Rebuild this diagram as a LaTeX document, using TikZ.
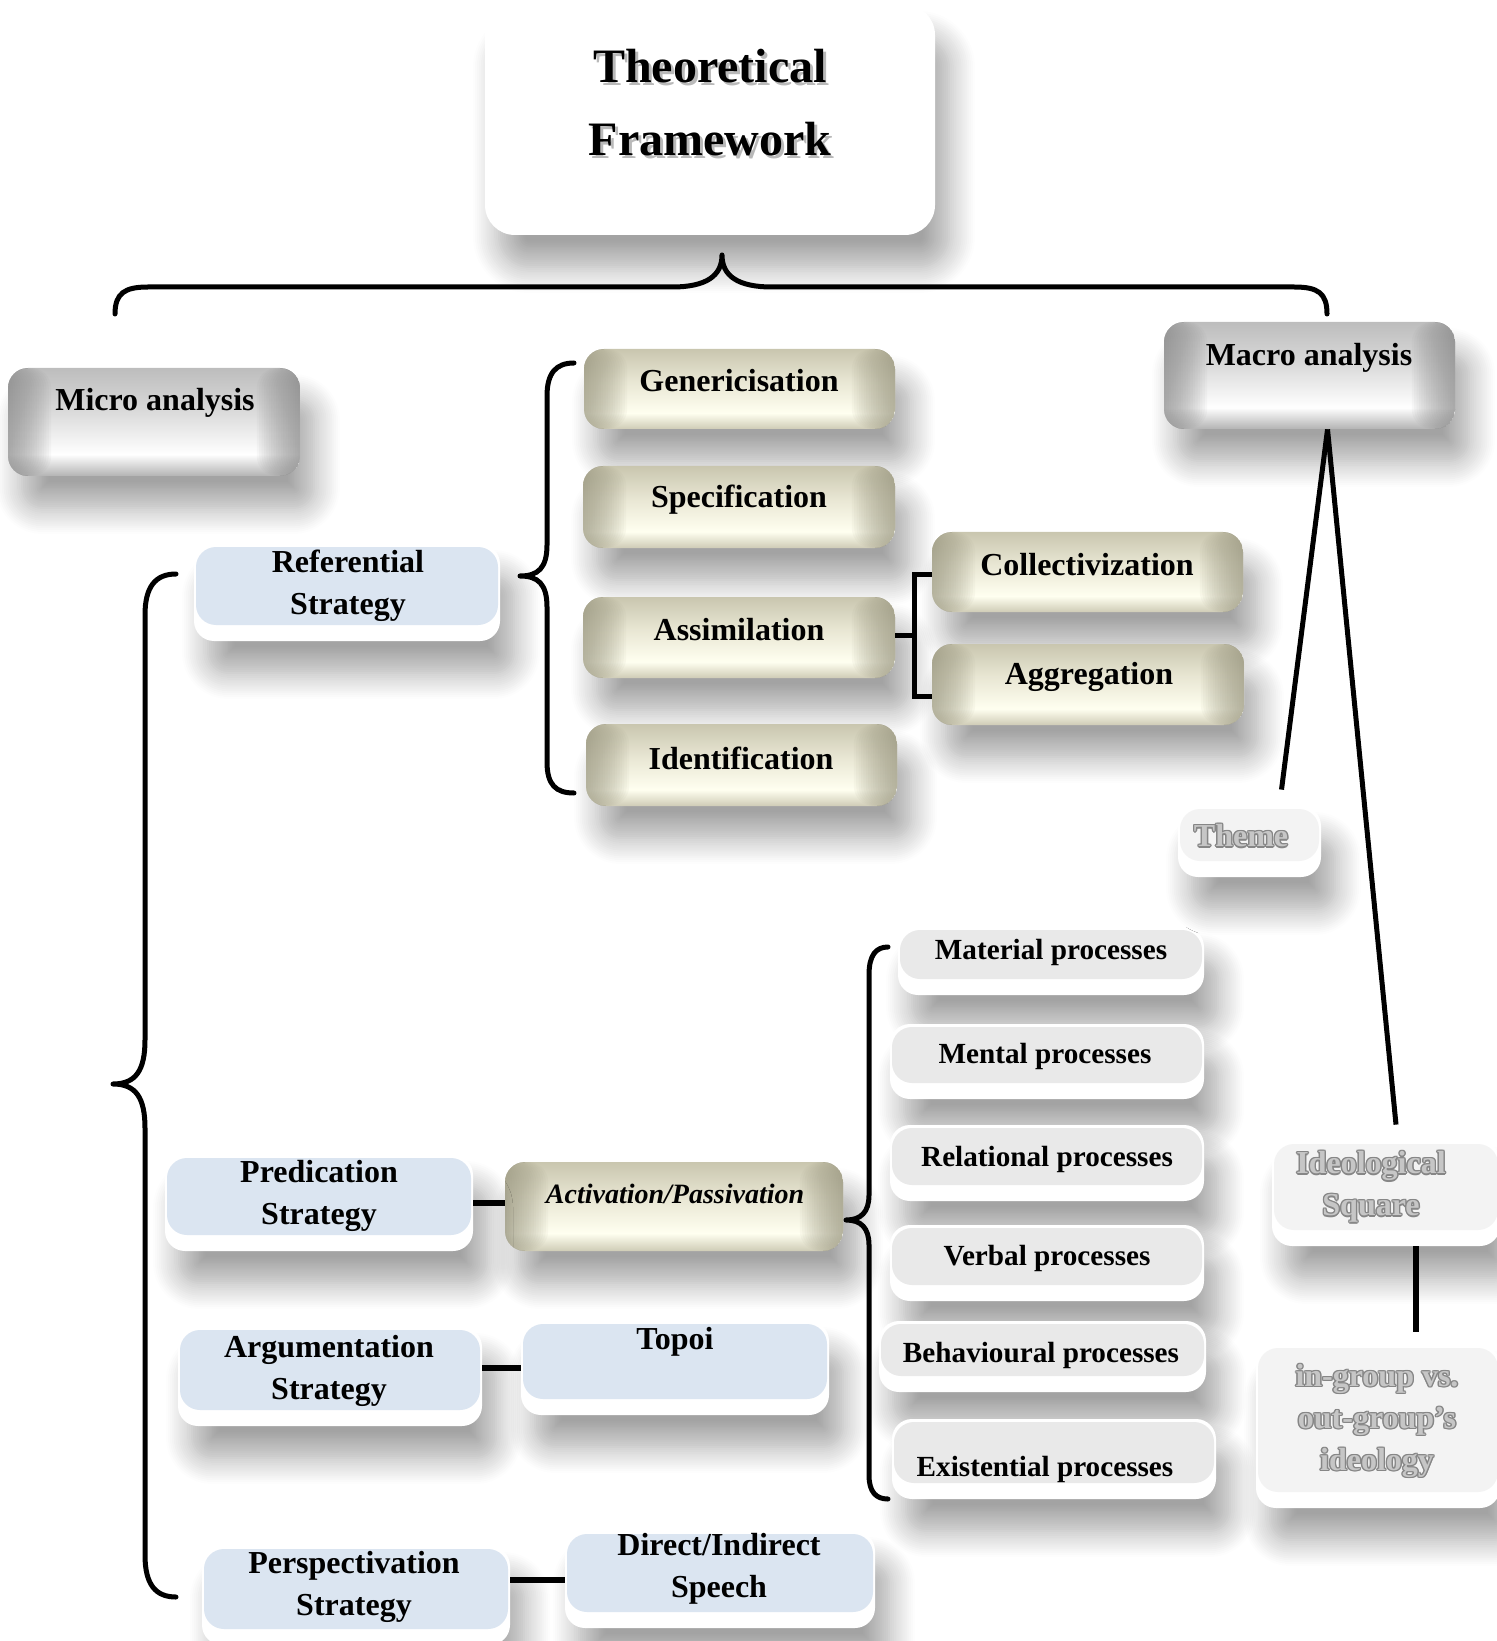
\documentclass[tikz,border=0pt]{standalone}
\usepackage{fontspec}
\setmainfont{Liberation Serif}
\usetikzlibrary{shadows.blur,calc}

\definecolor{tantop}{HTML}{C9C6AF}
\definecolor{tanup}{HTML}{E8E6D3}
\definecolor{tanmid}{HTML}{FFFFF0}
\definecolor{tanbot}{HTML}{CFCCB6}
\definecolor{tanedge}{HTML}{99967F}
\definecolor{grytop}{HTML}{BDBDBD}
\definecolor{gryup}{HTML}{DADADA}
\definecolor{grymid}{HTML}{FFFFFF}
\definecolor{grybot}{HTML}{B3B3B3}
\definecolor{gryedge}{HTML}{888888}
\definecolor{bluefill}{HTML}{DBE5F1}
\definecolor{procfill}{HTML}{E9E9E9}
\definecolor{ghostfill}{HTML}{F3F3F3}

\pgfdeclareverticalshading{pillowtan}{100bp}{color(0bp)=(tanbot); color(25bp)=(tanbot); color(35bp)=(tanmid); color(55bp)=(tanup); color(75bp)=(tantop); color(100bp)=(tantop)}
\pgfdeclareverticalshading{pillowgry}{100bp}{color(0bp)=(grybot); color(25bp)=(grybot); color(35bp)=(grymid); color(55bp)=(gryup); color(75bp)=(grytop); color(100bp)=(grytop)}

\newcommand\mkbox[6]{\node[#1, minimum width={(#4-#3)*0.5pt}, minimum height={(#6-#5)*0.5pt}] (#2) at ({(#3+#4)/2},{(#5+#6)/2}) {};}
\newcommand\ghosttext[4]{%
  \foreach \dx/\dy in {-0.7/0,0.7/0,0/0.7,0/-0.7,-0.5/0.5,0.5/0.5,-0.5/-0.5,0.5/-0.5}
    \node[t16, text=gray!95, xshift=\dx pt, yshift=\dy pt] at (#2,#3) {#4};
  \node[t16, text=gray!45] (#1) at (#2,#3) {#4};}

\tikzset{
  box/.style={rounded corners=10pt, inner sep=0pt, draw=none,
    blur shadow={shadow xshift=7pt, shadow yshift=-16pt, shadow blur radius=13pt, shadow blur steps=14, shadow opacity=36}},
  pillow/.style 2 args={box, shading=#1,
    path picture={
      \foreach \k in {1,...,18} {
        \fill[#2, opacity=0.06] (path picture bounding box.north west) rectangle ([xshift={\k*1.2pt}]path picture bounding box.south west);
        \fill[#2, opacity=0.06] ([xshift={-\k*1.2pt}]path picture bounding box.north east) rectangle (path picture bounding box.south east);
      }}},
  tanbox/.style={pillow={pillowtan}{tanedge}},
  greybox/.style={pillow={pillowgry}{gryedge}},
  rimbox/.style={box, fill=white,
    path picture={\fill[#1] ([shift={(1pt,-1.5pt)}]path picture bounding box.north west) rectangle ([shift={(-1pt,8pt)}]path picture bounding box.south east);}},
  bluebox/.style={rimbox=bluefill},
  procbox/.style={rimbox=procfill},
  ghostbox/.style={rimbox=ghostfill},
  titlebox/.style={box, fill=white, rounded corners=15pt},
  t16/.style={font=\bfseries\fontsize{16}{21}\selectfont, align=center, inner sep=0pt},
  t15/.style={font=\bfseries\fontsize{14.6}{20}\selectfont, align=center, inner sep=0pt},
  tit/.style={font=\bfseries\itshape\fontsize{14}{18}\selectfont, align=center, inner sep=0pt},
  ttl/.style={font=\bfseries\fontsize{24}{36.5}\selectfont, align=center, inner sep=0pt},
  conn/.style={line width=2.5pt, line cap=round, line join=round},
  hconn/.style={line width=3pt},
}

\begin{document}
\begin{tikzpicture}[x=0.5pt, y=-0.5pt]
\useasboundingbox (0,0) rectangle (1496,1641);

% ---------- boxes ----------
\mkbox{titlebox}{title}{485}{935}{5}{235}
\mkbox{greybox}{micro}{8}{300}{368}{476}
\mkbox{greybox}{macro}{1164}{1455}{322}{429}

\mkbox{tanbox}{gen}{584}{895}{349}{429}
\mkbox{tanbox}{spec}{583}{895}{466}{548}
\mkbox{tanbox}{assim}{583}{895}{597}{678}
\mkbox{tanbox}{ident}{586}{897}{724}{806}
\mkbox{tanbox}{coll}{932}{1243}{532}{612}
\mkbox{tanbox}{aggr}{932}{1244}{644}{725}
\mkbox{tanbox}{act}{505}{843}{1162}{1251}

\mkbox{bluebox}{ref}{194}{500}{544}{641}
\mkbox{bluebox}{pred}{165}{473}{1155}{1251}
\mkbox{bluebox}{arg}{178}{482}{1327}{1426}
\mkbox{bluebox}{topoi}{521}{829}{1321}{1415}
\mkbox{bluebox}{persp}{202}{510}{1546}{1645}
\mkbox{bluebox}{direct}{565}{875}{1531}{1628}

\mkbox{procbox}{mat}{898}{1204}{927}{995}
\mkbox{procbox}{mental}{890}{1204}{1024}{1099}
\mkbox{procbox}{rel}{890}{1204}{1125}{1201}
\mkbox{procbox}{verbal}{890}{1204}{1225}{1301}
\mkbox{procbox}{behav}{879}{1206}{1321}{1392}
\mkbox{procbox}{exist}{892}{1216}{1419}{1499}

\mkbox{ghostbox}{theme}{1178}{1321}{806}{877}
\mkbox{ghostbox}{ideo}{1272}{1500}{1141}{1246}
\mkbox{ghostbox}{ingroup}{1256}{1500}{1345}{1508}

% ---------- texts ----------
\node[ttl, text=gray!55, xshift=1.5pt, yshift=-1.5pt] at (710,103) {Theoretical\\Framework};
\node[ttl] (title-t) at (710,103) {Theoretical\\Framework};

\node[t16] (micro-t) at (155,403) {Micro analysis};
\node[t16] (macro-t) at (1309,358) {Macro analysis};
\node[t16] (gen-t) at (739,381) {Genericisation};
\node[t16] (spec-t) at (739,500) {Specification};
\node[t16] (assim-t) at (739,630) {Assimilation};
\node[t16] (ident-t) at (741,758) {Identification};
\node[t16] (coll-t) at (1087,565) {Collectivization};
\node[t16] (aggr-t) at (1089,677) {Aggregation};
\node[t16] (ref-t) at (348,586) {Referential\\Strategy};
\node[t16] (pred-t) at (319,1196) {Predication\\Strategy};
\node[t16] (arg-t) at (329,1371) {Argumentation\\Strategy};
\node[t16] (topoi-t) at (675,1342) {Topoi};
\node[t16] (persp-t) at (354,1587) {Perspectivation\\Strategy};
\node[t16] (direct-t) at (719,1569) {Direct/Indirect\\Speech};
\node[tit] (act-t) at (675,1194) {Activation/Passivation};

\node[t15] (mat-t) at (1051,952) {Material processes};
\node[t15] (mental-t) at (1045,1056) {Mental processes};
\node[t15] (rel-t) at (1047,1159) {Relational processes};
\node[t15] (verbal-t) at (1047,1258) {Verbal processes};
\node[t15] (behav-t) at (1041,1355) {Behavioural processes};
\node[t15] (exist-t) at (1045,1469) {Existential processes};

\ghosttext{theme-t}{1241}{836}{Theme}
\ghosttext{ideo-t}{1371}{1187}{Ideological\\Square}
\ghosttext{ingroup-t}{1377}{1421}{in-group vs.\\out-group’s\\ideology}

% ---------- connectors ----------
% top brace
\coordinate (tbL) at (115,314);
\coordinate (tbC) at (722,255);
\coordinate (tbR) at (1327,314);
\draw[conn] (tbL) .. controls (115,293) and (125,287) .. (148,287) -- (672,287)
  .. controls (706,287) and (722,276) .. (tbC)
  .. controls (722,276) and (738,287) .. (772,287) -- (1294,287)
  .. controls (1318,287) and (1327,293) .. (tbR);

% strategies brace
\coordinate (sbT) at (176,574);
\coordinate (sbC) at (113,1084);
\coordinate (sbB) at (176,1597);
\draw[conn] (sbT) .. controls (156,574) and (145,586) .. (145,615) -- (145,1040)
  .. controls (145,1070) and (136,1084) .. (sbC)
  .. controls (136,1084) and (145,1098) .. (145,1128) -- (145,1555)
  .. controls (145,1585) and (156,1597) .. (sbB);

% referential brace
\coordinate (rbT) at (574,363);
\coordinate (rbC) at (520,576);
\coordinate (rbB) at (574,793);
\draw[conn] (rbT) .. controls (556,363) and (547,373) .. (547,396) -- (547,545)
  .. controls (547,568) and (538,576) .. (rbC)
  .. controls (538,576) and (547,584) .. (547,607) -- (547,762)
  .. controls (547,785) and (556,793) .. (rbB);

% assimilation bracket
\coordinate (abJ) at (914,635);
\coordinate (abT) at (932,574);
\coordinate (abB) at (932,696);
\draw[conn, line cap=butt] (assim.east |- abJ) -- (abJ);
\draw[conn, line cap=butt, line join=miter] (abT) -- (914,574) -- (914,696) -- (abB);

% processes brace
\coordinate (pbT) at (888,947);
\coordinate (pbC) at (846,1220);
\coordinate (pbB) at (888,1499);
\draw[conn] (pbT) .. controls (876,947) and (869,955) .. (869,975) -- (869,1195)
  .. controls (869,1212) and (861,1220) .. (pbC)
  .. controls (861,1220) and (869,1228) .. (869,1245) -- (869,1475)
  .. controls (869,1492) and (876,1499) .. (pbB);

% macro lines
\coordinate (m0) at ([xshift=9pt]macro.south);
\coordinate (mTheme) at ([xshift=16pt, yshift=8pt]theme.north);
\coordinate (mIdeo) at ([xshift=5pt, yshift=8pt]ideo.north);
\draw[conn, line cap=butt] (m0) -- (mTheme);
\draw[conn, line cap=butt] (m0) -- (mIdeo);

% ideological square to in-group
\coordinate (iq0) at ([xshift=15pt]ideo.south);
\coordinate (iq1) at ([yshift=6.5pt]ingroup.north -| iq0);
\draw[hconn] (iq0) -- (iq1);

% strategy connectors
\draw[hconn] (pred.east) -- (pred.east -| act.west);
\draw[hconn] (arg.east |- topoi.west) -- (topoi.west);
\draw[hconn] (persp.east |- direct.west) -- (direct.west);
\end{tikzpicture}
\end{document}
